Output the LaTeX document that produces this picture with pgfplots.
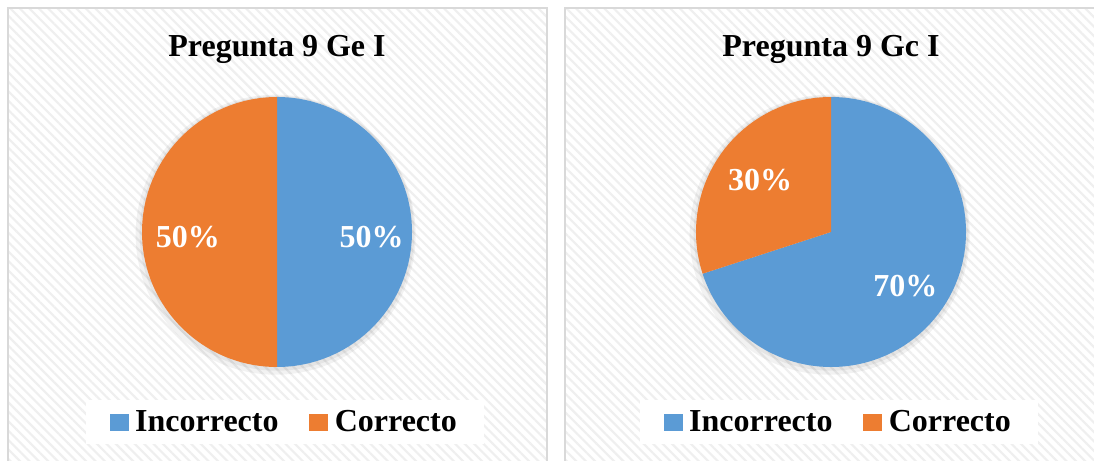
\documentclass[border=0pt]{standalone}
\usepackage{pgfplots}
\pgfplotsset{compat=1.18}
\usepackage{pgfplotstable}
\usepackage{fontspec}
\setmainfont{Liberation Serif}
\usetikzlibrary{patterns.meta}
\definecolor{incblue}{HTML}{5B9BD5}
\definecolor{corange}{HTML}{ED7D31}
\definecolor{panelborder}{HTML}{D9D9D9}
\definecolor{stripe}{HTML}{EFEFEF}

\pgfplotstableread{
label value
Incorrecto 50
Correcto 50
}\geI
\pgfplotstableread{
label value
Incorrecto 70
Correcto 30
}\gcI

\pgfplotsset{
  pieaxis/.style={
    scale only axis, width=202.5pt, height=202.5pt,
    xmin=-1, xmax=1, ymin=-1, ymax=1,
    hide axis, clip=false, anchor=center,
    legend columns=2,
    legend style={at={(0.528,-0.204)}, anchor=center, draw=none, fill=white,
      inner xsep=18pt, inner ysep=6pt,
      font=\fontsize{24}{27}\selectfont\bfseries,
      /tikz/every even column/.append style={column sep=21pt}},
    legend image code/.code={\fill[##1] (0pt,-6.2pt) rectangle (13.5pt,6.2pt);
      \path[draw=none, fill=none] (0pt,0pt) -- (17pt,0pt);},
  }
}

% angles from the data (start at 90 deg, clockwise)
\pgfplotstablegetelem{0}{value}\of\geI \let\aA\pgfplotsretval
\pgfplotstablegetelem{1}{value}\of\geI \let\aB\pgfplotsretval
\pgfmathsetmacro{\aEnd}{90-\aA*3.6}
\pgfmathsetmacro{\aEndB}{\aEnd-\aB*3.6}
\pgfmathsetmacro{\aMidA}{(90+\aEnd)/2}
\pgfmathsetmacro{\aMidB}{(\aEnd+\aEndB)/2}
\pgfplotstablegetelem{0}{value}\of\gcI \let\bA\pgfplotsretval
\pgfplotstablegetelem{1}{value}\of\gcI \let\bB\pgfplotsretval
\pgfmathsetmacro{\bEnd}{90-\bA*3.6}
\pgfmathsetmacro{\bEndB}{\bEnd-\bB*3.6}
\pgfmathsetmacro{\bMidA}{(90+\bEnd)/2}
\pgfmathsetmacro{\bMidB}{(\bEnd+\bEndB)/2}

\begin{document}
\begin{tikzpicture}
\path[use as bounding box] (0pt,0pt) rectangle (820.5pt,345pt);
\clip (0pt,0pt) rectangle (820.5pt,345pt);
\fill[white] (0pt,0pt) rectangle (820.5pt,345pt);
% panels (pixel x * 0.75pt, y = (460 - pixel y) * 0.75pt)
\foreach \xa/\xb in {6/410.25, 423.75/832.5}{
  \fill[white] (\xa pt,339pt) rectangle (\xb pt,-15pt);
  \fill[pattern={Lines[angle=-45, distance=5pt, line width=1.6pt]}, pattern color=stripe] (\xa pt,339pt) rectangle (\xb pt,-15pt);
  \draw[panelborder, line width=1.5pt] (\xa pt,339pt) rectangle (\xb pt,-15pt);
}
\node[font=\fontsize{24}{27}\selectfont\bfseries] at (207.75pt,308.25pt) {Pregunta 9 Ge I};
\node[font=\fontsize{24}{27}\selectfont\bfseries] at (623.25pt,308.25pt) {Pregunta 9 Gc I};

% left pie
\begin{axis}[pieaxis, at={(207.75pt,171pt)}]
  \fill[black, opacity=0.05] (axis cs:-0.01,-0.02) circle[radius=105pt];
  \fill[black, opacity=0.05] (axis cs:0,-0.01) circle[radius=103pt];
  \fill[incblue] (axis cs:0,0) -- (axis cs:0,1) arc[start angle=90, end angle=\aEnd, radius=101.25pt] -- cycle;
  \fill[corange] (axis cs:0,0) -- (axis cs:{cos(\aEnd)},{sin(\aEnd)}) arc[start angle=\aEnd, end angle=\aEndB, radius=101.25pt] -- cycle;
  \node[white, font=\fontsize{24}{28}\selectfont\bfseries] at (axis cs:{0.7*cos(\aMidA)},{0.7*sin(\aMidA)-0.04}) {\aA\%};
  \node[white, font=\fontsize{24}{28}\selectfont\bfseries] at (axis cs:{0.66*cos(\aMidB)},{0.66*sin(\aMidB)-0.04}) {\aB\%};
  \addlegendimage{incblue}\addlegendentry{Incorrecto}
  \addlegendimage{corange}\addlegendentry{Correcto}
\end{axis}

% right pie
\begin{axis}[pieaxis, at={(623.25pt,171pt)}]
  \fill[black, opacity=0.05] (axis cs:-0.01,-0.02) circle[radius=105pt];
  \fill[black, opacity=0.05] (axis cs:0,-0.01) circle[radius=103pt];
  \fill[incblue] (axis cs:0,0) -- (axis cs:0,1) arc[start angle=90, end angle=\bEnd, radius=101.25pt] -- cycle;
  \fill[corange] (axis cs:0,0) -- (axis cs:{cos(\bEnd)},{sin(\bEnd)}) arc[start angle=\bEnd, end angle=\bEndB, radius=101.25pt] -- cycle;
  \node[white, font=\fontsize{24}{28}\selectfont\bfseries] at (axis cs:{0.68*cos(\bMidA)},{0.68*sin(\bMidA)}) {\bA\%};
  \node[white, font=\fontsize{24}{28}\selectfont\bfseries] at (axis cs:{0.65*cos(\bMidB)},{0.65*sin(\bMidB)}) {\bB\%};
  \addlegendimage{incblue}\addlegendentry{Incorrecto}
  \addlegendimage{corange}\addlegendentry{Correcto}
\end{axis}
\end{tikzpicture}
\end{document}
